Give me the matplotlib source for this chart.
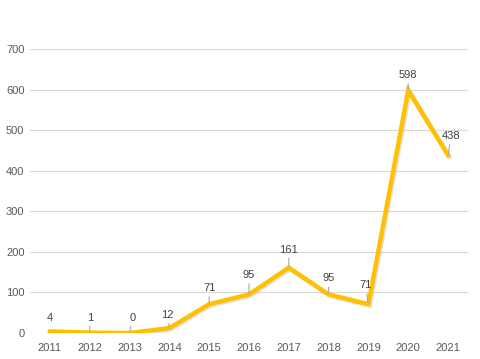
import numpy as np
import matplotlib.pyplot as plt
import matplotlib.patheffects as pe

years = ['2011', '2012', '2013', '2014', '2015', '2016', '2017', '2018', '2019', '2020', '2021']
counts = [4, 1, 0, 12, 71, 95, 161, 95, 71, 598, 438]
# label offsets (pixels) from each point
dx = [0, 0, 3, -2, 0, 0, 0, 0, -3, 0, 3]
dy = [13, 15, 15, 13, 16, 19, 18, 16, 19, 15, 19]

plt.rcParams['font.family'] = ['Liberation Sans', 'DejaVu Sans']
fig = plt.figure(figsize=(4.8, 3.59), dpi=100)
ax = fig.add_axes([0.0625, 0.0724, 0.9125, 0.7911])

x = np.arange(len(years))
ax.plot(x, counts, color='#FFC000', lw=3.2, solid_joinstyle='miter', zorder=3,
        path_effects=[pe.SimpleLineShadow(offset=(1, -1), shadow_color='#BBBBBB', alpha=0.4),
                      pe.Normal()])

for i, v in enumerate(counts):
    kw = dict(xytext=(dx[i], dy[i]), textcoords='offset pixels',
              ha='center', va='center', fontsize=8, color='#404040')
    if i > 0:
        kw['arrowprops'] = dict(arrowstyle='-', color='#A6A6A6', lw=0.8,
                                shrinkA=0.5, shrinkB=1)
    ax.annotate(str(v), (x[i], v), **kw)

ax.set_xlim(-0.5, len(years) - 0.5)
ax.set_ylim(0, 700)
ax.set_yticks(range(0, 701, 100))
ax.set_xticks(x)
ax.set_xticklabels(years)
ax.grid(axis='y', color='#D9D9D9', lw=0.8)
ax.set_axisbelow(True)
for s in ax.spines.values():
    s.set_visible(False)
ax.tick_params(length=0, labelsize=8, colors='#595959')
ax.tick_params(axis='x', pad=7)
ax.tick_params(axis='y', pad=4)

plt.savefig('out.png')
